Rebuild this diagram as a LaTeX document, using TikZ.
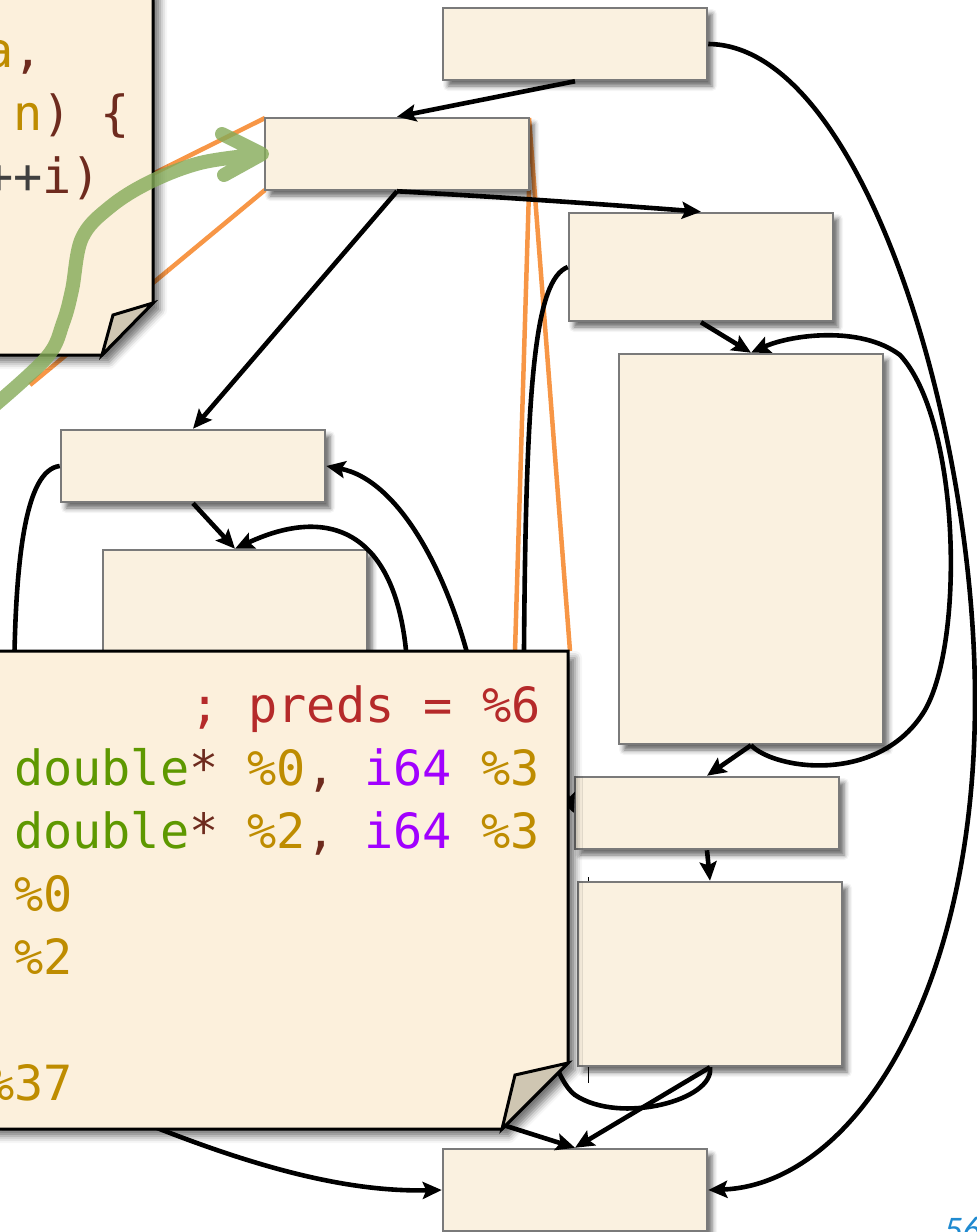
\documentclass[tikz,border=0pt]{standalone}
\usepackage{fontspec}
\newfontfamily\codefont{DejaVu Sans Mono}
\newfontfamily\pagefont{Carlito}
\usetikzlibrary{arrows.meta,shadows.blur}
\definecolor{boxfill}{HTML}{FAF1E0}
\definecolor{boxline}{HTML}{7A7A7A}
\definecolor{paper}{HTML}{FCF0DC}
\definecolor{flapfill}{HTML}{CFC6B2}
\definecolor{zoomorange}{HTML}{F79646}
\definecolor{arrowgreen}{HTML}{84AA58}
\definecolor{cgold}{HTML}{BE8C00}
\definecolor{cbrown}{HTML}{6E2B1E}
\definecolor{cgray}{HTML}{404040}
\definecolor{cred}{HTML}{B52A2A}
\definecolor{cgreen}{HTML}{5E9800}
\definecolor{cpurple}{HTML}{A100FF}
\definecolor{pageblue}{HTML}{1F8AD0}
\tikzset{
  cfgbox/.style={draw=boxline, fill=boxfill, line width=2.5pt, minimum width=264pt,
    minimum height=#1, inner sep=0pt,
    blur shadow={shadow xshift=5pt, shadow yshift=-6pt, shadow blur radius=5pt, shadow opacity=60}},
  edge/.style={line width=4.6pt, ->, >={Stealth[length=19pt,width=17pt,inset=3.5pt]}},
  hidden/.style={line width=4.6pt},
  zoomline/.style={draw=zoomorange, line width=4.5pt},
  notepaper/.style={fill=paper, draw=black, line width=3pt, line join=miter,
    blur shadow={shadow xshift=7pt, shadow yshift=-7pt, shadow blur radius=7pt, shadow opacity=55}},
  noteflap/.style={fill=flapfill, draw=black, line width=3pt, line join=miter},
  code/.style={font=\codefont\fontsize{48.5}{58}\selectfont, inner sep=0pt, anchor=base west},
}
\begin{document}
\begin{tikzpicture}[x=1pt,y=-1pt]
\useasboundingbox (0,0) rectangle (977,1232);
\clip (0,0) rectangle (977,1232);

% zoom (callout) lines
\coordinate (oa) at (0,250);
\coordinate (ob) at (30,385);
\coordinate (oc) at (515,651);
\coordinate (od) at (570,651);
\coordinate (b2nw) at (265,118);
\coordinate (b2sw) at (265,190);
\coordinate (b2ne) at (529,118);
\coordinate (b2se) at (529,190);
\draw[zoomline] (oa) -- (b2nw);
\draw[zoomline] (ob) -- (b2sw);
\draw[zoomline] (b2ne) -- (od);
\draw[zoomline] (b2se) -- (oc);

% thin artifact line
\coordinate (ta) at (588,877);
\coordinate (tb) at (588,1083);
\draw[line width=1pt] (ta) -- (tb);

% blocks
\node[cfgbox=72pt]  (B1) at (575,44)  {};
\node[cfgbox=72pt]  (B2) at (397,154) {};
\node[cfgbox=108pt] (B3) at (701,267) {};
\node[cfgbox=390pt] (B4) at (751,549) {};
\node[cfgbox=72pt]  (B5) at (193,466) {};
\node[cfgbox=200pt] (B6) at (235,650) {};
\node[cfgbox=72pt]  (B7) at (707,813) {};
\node[cfgbox=184pt] (B8) at (710,974) {};
\node[cfgbox=82pt]  (B9) at (575,1190) {};

% connectors
\draw[edge] (B1.south) -- (B2.north);
\draw[edge] (B1.east) .. controls (860,45) and (975,420) .. (975,700)
  .. controls (975,1000) and (850,1185) .. (B9.east);
\draw[edge] (B2.south) .. controls (500,197) and (600,204) .. (B3.north);
\draw[edge] (B2.south) -- (B5.north);
\draw[edge] (B3.south) -- (B4.north);
\draw[edge] (B4.south) .. controls (775,770) and (880,785) .. (925,710)
  .. controls (965,640) and (960,420) .. (900,355)
  .. controls (860,325) and (790,335) .. (B4.north);
\draw[edge] (B4.south) -- (B7.north);
\draw[edge] (B7.south) -- (B8.north);
\draw[edge] (B8.south) -- (B9.north);
\draw[hidden] (B8.south) .. controls (715,1100) and (620,1125) .. (575,1095)
  .. controls (530,1060) and (522,850) .. (524,650)
  .. controls (526,380) and (535,280) .. (B3.west);
\coordinate (h11) at (545,740);
\draw[edge] (h11) -- (B7.west);
\coordinate (h12) at (14,700);
\draw[hidden] (B5.west) .. controls (25,470) and (14,560) .. (h12);
\coordinate (h13) at (408,700);
\draw[edge] (h13) .. controls (410,540) and (340,500) .. (B6.north);
\draw[edge] (B5.south) -- (B6.north);
\coordinate (h15) at (478,700);
\draw[edge] (h15) .. controls (455,580) and (400,480) .. (B5.east);
\coordinate (h16) at (90,1100);
\draw[edge] (h16) .. controls (250,1170) and (350,1192) .. (B9.west);
\coordinate (h17) at (440,1105);
\draw[edge] (h17) -- (B9.north);

% top-left note
\path[notepaper] (-10,-10) -- (153,-10) -- (153,303) -- (102,355) -- (-10,355) -- cycle;
\path[noteflap] (153,303) -- (113,315) -- (102,355) -- cycle;
\node[code] (n1) at (-16,67)  {\textcolor{cgold}{a}\textcolor{cbrown}{,}};
\node[code] (n2) at (13,130)  {\textcolor{cgold}{n}\textcolor{cbrown}{) \{}};
\node[code] (n3) at (-16,193) {\textcolor{cgray}{++}\textcolor{cbrown}{i)}};

% big note
\path[notepaper] (-10,651) -- (568,651) -- (568,1063) -- (502,1129) -- (-10,1129) -- cycle;
\path[noteflap] (568,1063) -- (515,1075) -- (502,1129) -- cycle;
\node[code] (m1) at (190,722) {\textcolor{cred}{; preds = \%6}};
\node[code] (m2) at (14,785) {\textcolor{cgreen}{double}\textcolor{cbrown}{*} \textcolor{cgold}{\%0}\textcolor{cbrown}{,} \textcolor{cpurple}{i64} \textcolor{cgold}{\%3}};
\node[code] (m3) at (14,848) {\textcolor{cgreen}{double}\textcolor{cbrown}{*} \textcolor{cgold}{\%2}\textcolor{cbrown}{,} \textcolor{cpurple}{i64} \textcolor{cgold}{\%3}};
\node[code] (m4) at (14,911) {\textcolor{cgold}{\%0}};
\node[code] (m5) at (14,974) {\textcolor{cgold}{\%2}};
\node[code] (m6) at (-15,1100) {\textcolor{cgold}{\%37}};

% green pointer arrow
\draw[arrowgreen, opacity=0.8, line width=14pt, line cap=round, line join=round]
  plot[smooth, tension=0.6] coordinates {(-5,405) (47,357) (63,323) (72,290) (82,238) (110,207) (150,182) (200,163) (255,155)}
  (222,134) -- (262,154) -- (224,175);

% page number
\node[anchor=base west, inner sep=0pt, text=pageblue, font=\pagefont\itshape\fontsize{36}{40}\selectfont] (pg) at (944,1241) {56};
\end{tikzpicture}
\end{document}
